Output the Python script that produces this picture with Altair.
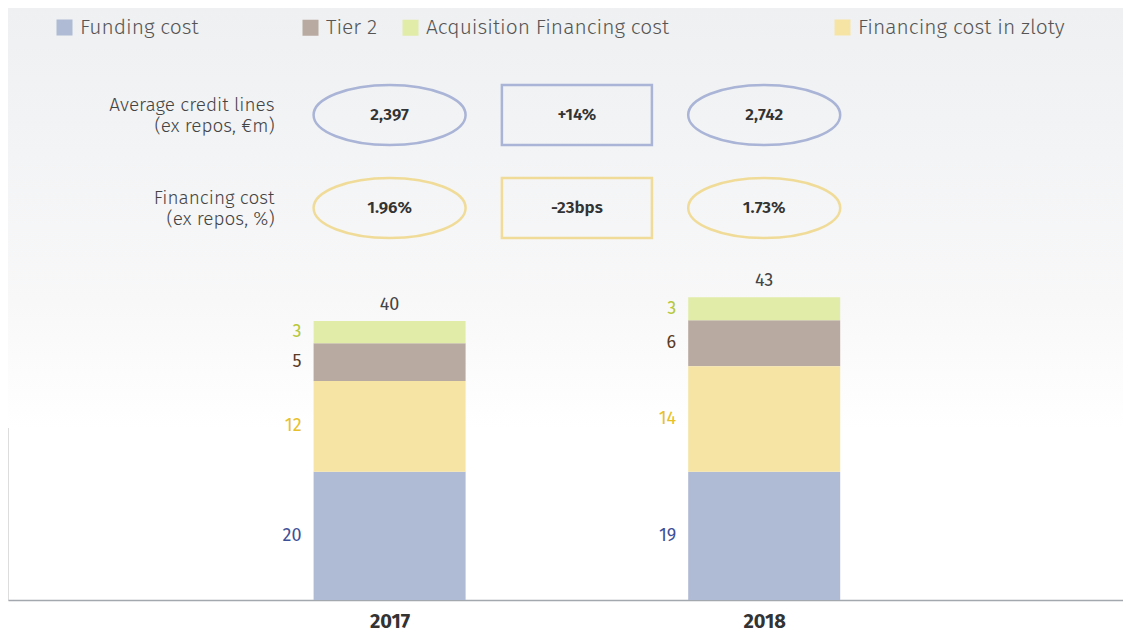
import altair as alt
import pandas as pd

# ---------------- data ----------------
years = ["2017", "2018"]
series = ["Funding cost", "Financing cost in zloty", "Tier 2", "Acquisition Financing cost"]  # bottom -> top
heights_2017 = [18.4, 13.0, 5.4, 3.2]
heights_2018 = [18.4, 15.1, 6.6, 3.3]
labels_2017 = ["20", "12", "5", "3"]
labels_2018 = ["19", "14", "6", "3"]
totals = ["40", "43"]

table_rows = ["Average credit lines\n(ex repos, €m)", "Financing cost\n(ex repos, %)"]
table_cols = ["2017", "change", "2018"]
credit_lines = ["2,397", "+14%", "2,742"]
financing_cost = ["1.96%", "-23bps", "1.73%"]

# ---------------- styles ----------------
FONT = "Fira Sans, Lato, sans-serif"
bar_colors = {"Funding cost": "#afbad5", "Financing cost in zloty": "#f6e4a4",
              "Tier 2": "#b8aaa1", "Acquisition Financing cost": "#e2eca9"}
label_colors = {"Funding cost": "#3e4f98", "Financing cost in zloty": "#e8c02a",
                "Tier 2": "#5b3a22", "Acquisition Financing cost": "#b6c83a"}
row_colors = ["#a9b4d6", "#f0dc98"]

# ---------------- tables ----------------
recs = []
for yi, (y, hs, ls) in enumerate(zip(years, [heights_2017, heights_2018], [labels_2017, labels_2018])):
    for si, s in enumerate(series):
        recs.append({"year": y, "pos": float(yi), "series": s, "value": hs[si], "label": ls[si],
                     "order": si, "lcolor": label_colors[s]})
bar_df = pd.DataFrame(recs)

tot_df = pd.DataFrame({"year": years, "pos": [0.0, 1.0], "total": totals,
                       "top": [sum(heights_2017), sum(heights_2018)]})

trecs = []
for r, vals in zip(table_rows, [credit_lines, financing_cost]):
    for ci, c in enumerate(table_cols):
        trecs.append({"row": r, "col": c, "pos": ci * 0.5, "text": vals[ci],
                      "kind": "change" if c == "change" else "value"})
table_df = pd.DataFrame(trecs)
rowlab_df = pd.DataFrame({"row": table_rows, "pos": [0.0, 0.0]})

W, H = 1115, 592
X = alt.X("pos:Q", scale=alt.Scale(domain=[-380 / 378, (W - 380) / 378], nice=False, zero=False),
          axis=alt.Axis(values=[0, 1], labelExpr="datum.value == 0 ? '2017' : '2018'",
                        ticks=False, grid=False, domainColor="#a3a7ae", domainWidth=1.5,
                        labelFontSize=20, labelFontWeight="bold", labelColor="#333333",
                        labelFont=FONT, labelPadding=11, title=None))
yscale = alt.Scale(domain=[0, H / 6.975], nice=False, zero=True)
Yrow = alt.Y("row:N", scale=alt.Scale(domain=table_rows, range=[107, 200], padding=0), axis=None)

# background gradient
bg = alt.Chart(pd.DataFrame({"a": [0]})).mark_rect(
    color=alt.Gradient(gradient="linear",
                       stops=[alt.GradientStop(color="#eef0f1", offset=0),
                              alt.GradientStop(color="#f8f8f9", offset=0.7),
                              alt.GradientStop(color="#ffffff", offset=1)],
                       x1=0, x2=0, y1=0, y2=1)
).encode(x=alt.value(0), x2=alt.value(W), y=alt.value(0), y2=alt.value(420))

base = alt.Chart(bar_df).transform_stack(
    stack="value", groupby=["year"], as_=["v0", "v1"], sort=[alt.SortField("order", order="ascending")]
)


def bar_layer(names, legend_x, col_pad=0):
    return base.transform_filter(alt.FieldOneOfPredicate(field="series", oneOf=names)).mark_bar(size=152).encode(
        x=X,
        y=alt.Y("v0:Q", scale=yscale, axis=None),
        y2="v1:Q",
        color=alt.Color("series:N",
                        scale=alt.Scale(domain=names, range=[bar_colors[n] for n in names]),
                        legend=alt.Legend(orient="none", legendX=legend_x, legendY=9, direction="horizontal",
                                          title=None, symbolType="square", symbolSize=256,
                                          symbolStrokeWidth=0, labelFontSize=21, labelColor="#555555",
                                          labelFont=FONT, labelFontWeight=300, labelOffset=5,
                                          columnPadding=col_pad, padding=0, labelLimit=400)),
    )


bars1 = bar_layer(["Funding cost"], 46)
bars2 = bar_layer(["Tier 2", "Acquisition Financing cost"], 292, 22)
bars3 = bar_layer(["Financing cost in zloty"], 824)

seg_labels = base.transform_calculate(mid="(datum.v0 + datum.v1) / 2").mark_text(
    align="right", baseline="middle", dx=-88, fontSize=18, font=FONT
).encode(x=X, y=alt.Y("mid:Q", scale=yscale, axis=None), text="label:N",
         color=alt.Color("lcolor:N", scale=None))

tot_labels = alt.Chart(tot_df).mark_text(
    align="center", baseline="middle", dy=-16, fontSize=18, font=FONT, color="#444444"
).encode(x=X, y=alt.Y("top:Q", scale=yscale, axis=None), text="total:N")

ellipse = "M-1,0A1,0.395,0,1,1,1,0A1,0.395,0,1,1,-1,0Z"
rect = "M-0.987,-0.395L0.987,-0.395L0.987,0.395L-0.987,0.395Z"

shapes = alt.Chart(table_df).mark_point(filled=False, strokeWidth=2.5, opacity=1).encode(
    x=X, y=Yrow,
    shape=alt.Shape("kind:N", scale=alt.Scale(domain=["value", "change"], range=[ellipse, rect]), legend=None),
    color=alt.Color("row:N", scale=alt.Scale(domain=table_rows, range=row_colors), legend=None),
    size=alt.value(152 * 152),
)
table_text = alt.Chart(table_df).mark_text(
    fontSize=17, fontWeight=600, font=FONT, color="#333333", baseline="middle"
).encode(x=X, y=Yrow, text="text:N")

row_labels = alt.Chart(rowlab_df).transform_calculate(lab="split(datum.row, '\\n')").mark_text(
    align="right", baseline="middle", dx=-115, dy=-10, fontSize=19, font=FONT, fontWeight=300,
    color="#444444", lineHeight=21
).encode(x=X, y=Yrow, text="lab:N")

chart = alt.layer(bg, bars1, bars2, bars3, seg_labels, tot_labels, shapes, table_text, row_labels).resolve_scale(
    y="independent", color="independent"
).properties(width=W, height=H, padding=0).configure_view(
    stroke="transparent", strokeWidth=0
).configure(background="white").configure_axisY(domain=False, ticks=False, labels=False, grid=False)

chart.save("out.html", embed_options={"renderer": "svg", "actions": False})
